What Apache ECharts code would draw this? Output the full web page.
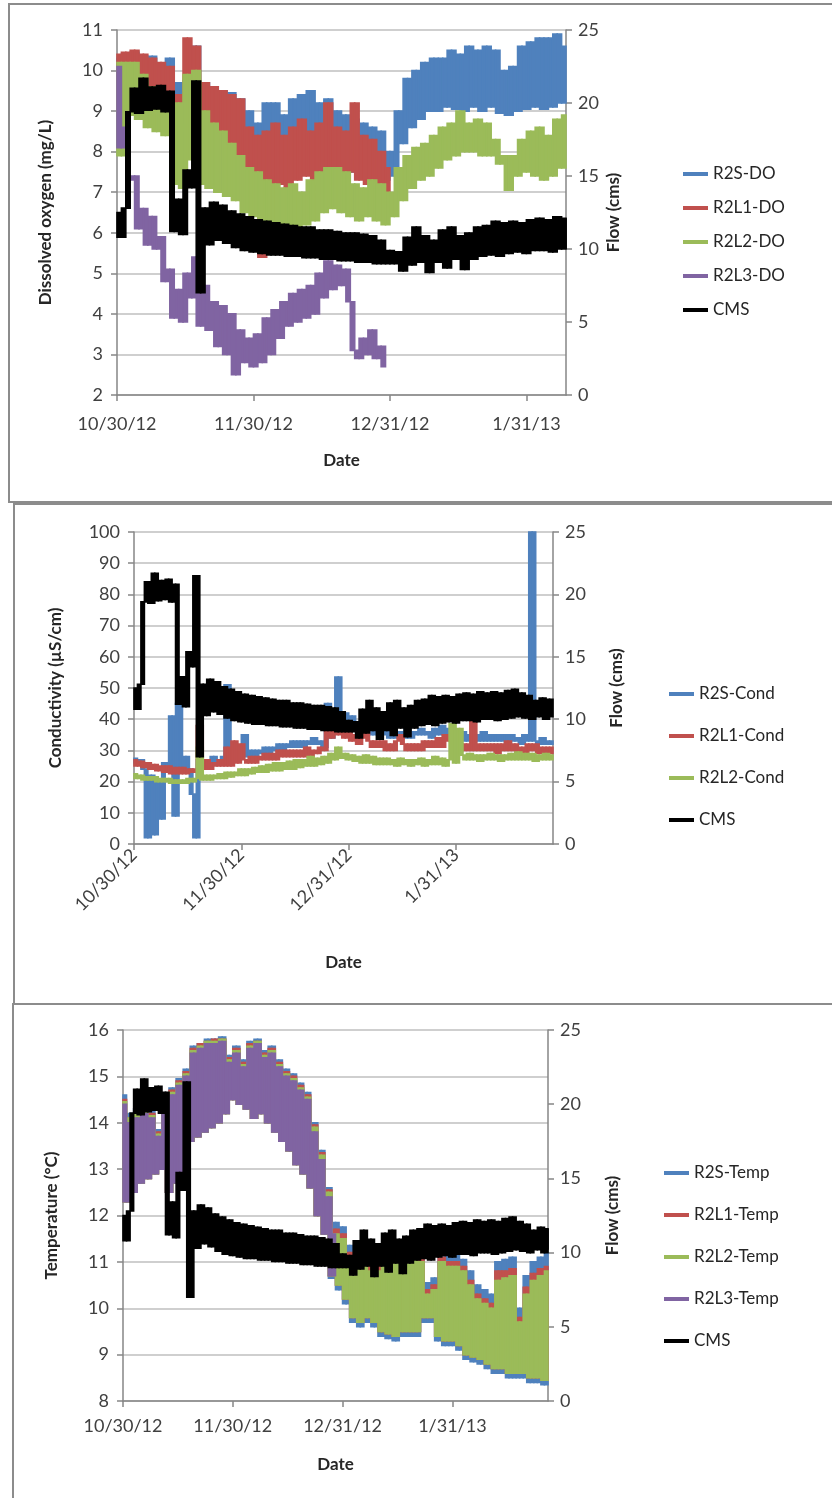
<!DOCTYPE html>
<html>
<head>
<meta charset="utf-8">
<script src="https://cdn.jsdelivr.net/npm/echarts@6/dist/echarts.min.js"></script>
<style>
  body { margin: 0; width: 832px; height: 1498px; overflow: hidden; background: #fff; }
  .chart { position: absolute; left: 0; width: 832px; }
  .box { position: absolute; box-sizing: border-box; border: 2px solid #8c8c8c; pointer-events: none; }
</style>
</head>
<body>
<div id="doChart" class="chart" style="top:0;height:504px;"></div>
<div id="condChart" class="chart" style="top:504px;height:500px;"></div>
<div id="tempChart" class="chart" style="top:1004px;height:494px;"></div>
<div class="box" style="left:8px;top:3px;width:900px;height:500px;"></div>
<div class="box" style="left:13px;top:503px;width:900px;height:502px;"></div>
<div class="box" style="left:12px;top:1003px;width:900px;height:600px;"></div>

<script>
  // x = days since 10/30/12, one reading per day (alternating daily high / low)
  var xTickDays = [0, 31, 62, 93];
  var xTickLabels = ['10/30/12', '11/30/12', '12/31/12', '1/31/13'];

  // flow, same record on all three panels
  var cmsFlow = [
    12.5, 10.8, 12.8, 19.4, 21.0, 19.3, 21.7, 19.5, 21.1, 19.6,
    21.2, 19.4, 20.8, 11.2, 13.4, 11.0, 15.4, 14.2, 21.5, 7.0,
    12.8, 10.3, 13.2, 10.6, 13.0, 10.4, 12.6, 10.1, 12.4, 9.9,
    12.2, 9.8, 12.0, 9.7, 11.9, 9.6, 11.8, 9.6, 11.7, 9.5,
    11.6, 9.5, 11.5, 9.4, 11.5, 9.4, 11.3, 9.3, 11.3, 9.3,
    11.2, 9.2, 11.1, 9.2, 11.1, 9.1, 11.0, 9.1, 10.9, 9.0,
    10.6, 9.0, 9.9, 9.0, 9.8, 8.5, 10.8, 8.9, 11.5, 9.1,
    10.9, 8.4, 10.6, 9.1, 11.3, 8.7, 11.5, 9.3, 10.9, 8.6,
    11.1, 9.3, 11.5, 9.5, 11.6, 9.6, 11.9, 9.5, 11.8, 9.7,
    11.9, 9.8, 11.8, 9.7, 12.0, 9.9, 12.1, 9.9, 12.0, 9.8,
    12.2, 10.0, 12.1, 10.0, 12.2, 9.9, 12.1, 10.0, 12.3, 10.1,
    12.4, 10.2, 12.1, 10.1, 11.9, 10.0, 11.5, 10.2, 11.7, 10.0,
    11.6, 10.2
  ];

  // dissolved oxygen (mg/L)
  var r2sDO = [
    10.3, 9.0, 10.4, 9.1, 10.45, 9.1, 10.35, 9.2, 10.35, 9.1,
    10.1, 9.1, 10.3, 8.6, 9.7, 8.5, 9.75, 9.0, 10.6, 8.9,
    9.7, 8.4, 9.6, 8.3, 9.5, 8.2, 9.45, 8.1, 9.3, 7.4,
    9.0, 7.5, 8.7, 7.3, 9.2, 7.6, 9.2, 7.7, 8.9, 7.6,
    9.3, 7.7, 9.4, 7.8, 9.5, 7.6, 9.2, 7.9, 9.3, 7.8,
    9.0, 7.6, 8.9, 7.5, 8.8, 7.6, 8.7, 7.5, 8.6, 7.4,
    8.5, 7.3, 8.0, 7.4, 9.0, 8.2, 9.8, 8.6, 10.0, 8.8,
    10.2, 9.0, 10.3, 9.0, 10.3, 9.1, 10.5, 9.05, 10.4, 9.0,
    10.6, 9.1, 10.5, 9.0, 10.6, 9.1, 10.5, 8.95, 10.0, 8.9,
    10.1, 9.0, 10.6, 9.05, 10.7, 9.1, 10.8, 9.05, 10.8, 9.1,
    10.9, 9.2, 10.6
  ];
  var r2l1DO = [
    10.4, 9.0, 10.45, 9.0, 10.5, 9.0, 10.4, 8.9, 10.3, 8.9,
    10.2, 8.8, 10.1, 8.6, 9.4, 8.7, 10.8, 8.9, 10.6, 8.4,
    9.7, 8.1, 9.6, 8.0, 9.5, 7.9, 9.4, 7.8, 9.3, 6.8,
    8.6, 7.0, 8.4, 5.4, 8.5, 7.1, 8.7, 7.2, 8.4, 6.9,
    8.6, 7.3, 8.8, 7.4, 8.5, 7.2, 8.7, 7.5, 9.2, 7.4,
    8.6, 7.3, 8.5, 7.5, 9.2, 7.3, 8.4, 7.2, 8.3, 7.1,
    8.0, 7.0, 7.6
  ];
  var r2l2DO = [
    10.2, 7.9, 10.2, 8.9, 10.2, 8.8, 9.9, 8.6, 9.6, 8.5,
    9.3, 8.4, 9.1, 7.2, 9.2, 7.1, 9.9, 7.8, 10.0, 7.2,
    9.0, 7.1, 8.7, 7.0, 8.5, 6.9, 8.2, 6.8, 7.9, 6.5,
    7.6, 6.4, 7.5, 6.3, 7.3, 6.2, 7.2, 6.1, 7.1, 6.2,
    7.2, 6.1, 7.0, 6.2, 7.3, 6.3, 7.5, 6.5, 7.6, 6.6,
    7.6, 6.5, 7.5, 6.4, 7.2, 6.3, 7.1, 6.4, 7.3, 6.3,
    7.2, 6.2, 7.0, 6.4, 7.6, 6.8, 7.9, 7.1, 8.1, 7.3,
    8.2, 7.4, 8.4, 7.6, 8.6, 7.8, 8.7, 7.9, 9.0, 8.0,
    8.7, 8.0, 8.8, 7.9, 8.7, 7.9, 8.3, 7.7, 7.9, 7.05,
    7.9, 7.4, 8.3, 7.5, 8.5, 7.4, 8.6, 7.3, 8.4, 7.4,
    8.8, 7.6, 8.9
  ];
  var r2l3DO = [
    10.1, 8.1, 8.6, 7.3, 7.4, 6.1, 6.6, 5.7, 6.4, 5.6,
    5.9, 4.8, 5.1, 3.9, 4.6, 3.8, 5.0, 4.4, 5.4, 3.7,
    4.7, 3.6, 4.3, 3.2, 4.2, 3.0, 4.0, 2.5, 3.6, 2.8,
    3.4, 2.7, 3.5, 2.8, 3.9, 3.0, 4.1, 3.4, 4.3, 3.7,
    4.5, 3.8, 4.6, 3.9, 4.7, 4.0, 5.0, 4.4, 5.3, 4.6,
    5.2, 4.7, 5.1, 4.3, 3.1, 2.9, 3.4, 3.0, 3.6, 2.9,
    3.2, 2.7
  ];

  // conductivity (uS/cm)
  var r2sCond = [
    27.5, 26, 27, 24, 2, 22, 3, 20, 8, 26,
    25, 41, 9, 45, 24, 28, 24, 16, 2, 27,
    25, 27, 26, 28, 26, 27, 28, 51, 27, 29,
    27, 29, 35, 28, 30, 28, 30, 29, 31, 29,
    31, 30, 32, 30, 32, 31, 33, 31, 33, 31,
    33, 32, 34, 32, 33, 31, 45, 34, 40, 53.5,
    40, 42, 38, 41, 37, 39, 36, 38, 35, 37,
    35, 38, 35, 37, 34, 36, 34, 36, 34, 37,
    34, 36, 35, 37, 35, 36, 34, 37, 35, 38,
    35, 37, 34, 36, 34, 36, 33, 35, 33, 35,
    33, 36, 33, 35, 33, 35, 33, 35, 32, 35,
    33, 34, 32, 35, 33, 100, 33, 32, 34, 32,
    33, 32
  ];
  var r2l1Cond = [
    27, 25, 26.5, 24.5, 26, 24, 25.5, 23.5, 25, 23,
    25, 22.5, 24.5, 22.5, 24.5, 22.5, 24, 23, 24, 38,
    24, 27, 24, 26, 25, 27, 25, 31, 25, 33,
    26, 32, 27, 26, 28, 26, 28, 27, 29, 27,
    29, 27, 30, 28, 30, 28, 30, 28, 30, 28,
    31, 28, 30, 29, 31, 30, 39, 34, 38, 35,
    37, 34, 36, 33, 35, 32, 34, 36, 33, 31,
    33, 31, 33, 30, 32, 30, 33, 35, 32, 30,
    32, 30, 32, 30, 33, 31, 33, 31, 34, 31,
    35, 33, 34, 30, 32, 30, 32, 30, 45, 30,
    32, 30, 32, 30, 32, 29, 32, 30, 33, 30,
    32, 29, 31, 29, 32, 30, 32, 29, 31, 29,
    31, 29
  ];
  var r2l2Cond = [
    22.5, 21, 22, 20.5, 21.5, 20.5, 21.5, 20, 21, 20,
    21, 19.5, 20.5, 19.5, 20.5, 19.5, 21, 20, 21, 31,
    20.5, 22, 20.5, 22, 21, 22.5, 21, 23, 21.5, 23,
    22, 24, 22, 24, 22.5, 24.5, 23, 25, 23, 25.5,
    23.5, 26, 23.5, 26, 24, 26.5, 24, 27, 24.5, 27,
    25, 28, 25, 27.5, 25.5, 28, 26, 29, 27, 31,
    27.5, 29, 27, 28.5, 26.5, 28, 26, 28.5, 26, 28,
    25.5, 27.5, 25.5, 27.5, 25.5, 27, 25, 27.5, 25.5, 27,
    25, 27, 25.5, 27.5, 25, 27, 25.5, 28, 25.5, 27.5,
    25, 27, 38.5, 26, 37, 28.5, 27, 29, 27, 28.5,
    26.5, 28.5, 27, 29, 27, 28.5, 26.5, 28.5, 27, 29,
    27, 29.5, 27, 29, 27, 29, 26.5, 28.5, 27, 29,
    27, 28.5
  ];

  // temperature (deg C)
  var r2sTemp = [
    14.6, 12.3, 14.2, 12.5, 14.3, 12.7, 14.35, 12.8, 14.25, 12.9,
    13.85, 13.0, 14.55, 12.5, 14.75, 12.7, 14.95, 12.9, 15.15, 13.6,
    15.65, 13.7, 15.7, 13.8, 15.8, 13.9, 15.8, 14.0, 15.85, 14.2,
    15.45, 14.5, 15.65, 14.4, 15.35, 14.3, 15.75, 14.1, 15.8, 14.2,
    15.55, 14.0, 15.65, 13.8, 15.35, 13.6, 15.15, 13.4, 15.05, 13.1,
    14.85, 12.9, 14.65, 12.6, 14.0, 12.0, 13.4, 11.6, 12.6, 10.65,
    11.85, 10.4, 11.75, 10.1, 11.35, 9.7, 11.25, 9.6, 11.35, 9.7,
    11.05, 9.6, 11.05, 9.4, 11.25, 9.35, 11.35, 9.3, 11.45, 9.4,
    11.45, 9.4, 11.35, 9.4, 11.25, 9.7, 10.55, 9.7, 10.65, 9.3,
    11.25, 9.2, 11.15, 9.2, 11.15, 9.1, 11.05, 8.9, 10.8, 8.85,
    10.5, 8.8, 10.4, 8.7, 10.3, 8.6, 11.0, 8.6, 11.05, 8.5,
    11.1, 8.5, 10.0, 8.5, 10.7, 8.4, 11.0, 8.4, 11.1, 8.35,
    11.2
  ];
  var r2l1Temp = [
    14.5, 12.3, 14.1, 12.5, 14.2, 12.7, 14.3, 12.8, 14.2, 12.9,
    13.8, 13.0, 14.5, 12.5, 14.7, 12.7, 14.9, 12.9, 15.1, 13.6,
    15.6, 13.7, 15.7, 13.8, 15.75, 13.9, 15.8, 14.0, 15.8, 14.2,
    15.4, 14.5, 15.6, 14.4, 15.3, 14.3, 15.7, 14.1, 15.75, 14.2,
    15.5, 14.0, 15.6, 13.8, 15.3, 13.6, 15.1, 13.4, 15.0, 13.1,
    14.8, 12.9, 14.6, 12.6, 13.95, 12.0, 13.35, 11.6, 12.55, 10.7,
    11.7, 10.5, 11.6, 10.2, 11.2, 9.8, 11.1, 9.7, 11.2, 9.8,
    10.9, 9.7, 10.9, 9.5, 11.1, 9.45, 11.2, 9.4, 11.3, 9.5,
    11.3, 9.5, 11.2, 9.5, 11.1, 9.8, 10.4, 9.8, 10.5, 9.4,
    11.1, 9.3, 11.0, 9.3, 11.0, 9.2, 10.9, 9.0, 10.6, 8.95,
    10.3, 8.9, 10.2, 8.8, 10.1, 8.7, 10.8, 8.7, 10.8, 8.6,
    10.85, 8.6, 9.8, 8.6, 10.45, 8.5, 10.75, 8.5, 10.85, 8.45,
    10.9
  ];
  var r2l2Temp = [
    14.45, 12.3, 14.1, 12.5, 14.2, 12.7, 14.25, 12.8, 14.15, 12.9,
    13.75, 13.0, 14.45, 12.5, 14.65, 12.7, 14.85, 12.9, 15.05, 13.6,
    15.55, 13.7, 15.65, 13.8, 15.75, 13.9, 15.75, 14.0, 15.8, 14.2,
    15.35, 14.5, 15.55, 14.4, 15.25, 14.3, 15.65, 14.1, 15.75, 14.2,
    15.45, 14.0, 15.55, 13.8, 15.25, 13.6, 15.05, 13.4, 14.95, 13.1,
    14.75, 12.9, 14.55, 12.6, 13.9, 12.0, 13.3, 11.6, 12.5, 10.7,
    11.6, 10.5, 11.5, 10.2, 11.1, 9.8, 11.0, 9.7, 11.1, 9.8,
    10.8, 9.7, 10.8, 9.5, 11.0, 9.45, 11.1, 9.4, 11.2, 9.5,
    11.2, 9.5, 11.1, 9.5, 11.0, 9.8, 10.3, 9.8, 10.4, 9.4,
    11.0, 9.3, 10.9, 9.3, 10.9, 9.2, 10.8, 9.0, 10.5, 8.95,
    10.2, 8.9, 10.1, 8.8, 10.0, 8.7, 10.6, 8.7, 10.65, 8.6,
    10.7, 8.6, 9.7, 8.6, 10.3, 8.5, 10.6, 8.5, 10.7, 8.45,
    10.8
  ];
  var r2l3Temp = [
    14.4, 12.3, 14.0, 12.5, 14.1, 12.7, 14.2, 12.8, 14.1, 12.9,
    13.7, 13.0, 14.4, 12.5, 14.6, 12.7, 14.8, 12.9, 15.0, 13.6,
    15.5, 13.7, 15.6, 13.8, 15.7, 13.9, 15.7, 14.0, 15.75, 14.2,
    15.3, 14.5, 15.5, 14.4, 15.2, 14.3, 15.6, 14.1, 15.7, 14.2,
    15.4, 14.0, 15.5, 13.8, 15.2, 13.6, 15.0, 13.4, 14.9, 13.1,
    14.7, 12.9, 14.5, 12.6, 13.8, 12.0, 13.2, 11.6, 12.4, 10.7,
    11.6
  ];

  var blue = '#4F81BD', red = '#C0504D', green = '#9BBB59', purple = '#8064A2', black = '#000000';
  var axisGray = '#868686';
  var labelColor = '#404040';
  var titleColor = '#262626';

  // each day's swing between consecutive readings -> [day, low, high]
  function swings(values) {
    var out = [];
    for (var i = 0; i < values.length - 1; i++) {
      out.push([i, Math.min(values[i], values[i + 1]), Math.max(values[i], values[i + 1])]);
    }
    return out;
  }

  function renderSwing(params, api) {
    var top = api.coord([api.value(0), api.value(2)]);
    var bottom = api.coord([api.value(0) + 1, api.value(1)]);
    var cs = params.coordSys;
    var shape = echarts.graphic.clipRectByRect(
      { x: top[0], y: top[1], width: bottom[0] - top[0], height: bottom[1] - top[1] },
      { x: cs.x, y: cs.y, width: cs.width, height: cs.height }
    );
    if (!shape) return;
    var color = api.visual('color');
    return {
      type: 'rect',
      shape: shape,
      style: { fill: color, stroke: color, lineWidth: 1.6 }
    };
  }

  function swingSeries(name, values, color, onFlow) {
    return {
      name: name,
      type: 'custom',
      renderItem: renderSwing,
      data: swings(values),
      encode: { x: 0, y: [1, 2] },
      yAxisIndex: onFlow ? 1 : 0,
      itemStyle: { color: color },
      silent: true
    };
  }

  function makeChart(id, c) {
    var chart = echarts.init(document.getElementById(id));
    var axisLine = { show: true, onZero: false, lineStyle: { color: axisGray, width: 1.5 } };
    var axisTick = { show: true, length: 6, lineStyle: { color: axisGray, width: 1.5 } };
    var titleStyle = { fontSize: 17, fontWeight: 'bold', color: titleColor };
    chart.setOption({
      animation: false,
      textStyle: { fontFamily: 'Lato' },
      grid: { left: c.grid[0], top: c.grid[1], width: c.grid[2], height: c.grid[3] },
      legend: {
        orient: 'vertical',
        left: c.legend[0],
        top: c.legend[1],
        itemGap: c.legend[2],
        icon: 'rect',
        itemWidth: 25,
        itemHeight: 4,
        textStyle: { fontSize: 17, lineHeight: 18, color: titleColor }
      },
      xAxis: {
        type: 'value',
        min: 0,
        max: c.xMax,
        interval: 31,
        name: 'Date',
        nameLocation: 'middle',
        nameGap: c.xNameGap,
        nameMoveOverlap: false,
        nameTextStyle: titleStyle,
        axisLine: axisLine,
        axisTick: { show: true, length: 6, customValues: xTickDays, lineStyle: { color: axisGray, width: 1.5 } },
        axisLabel: {
          customValues: xTickDays,
          rotate: c.rotate,
          margin: c.xLabelMargin,
          fontSize: 18,
          color: labelColor,
          formatter: function (v) {
            var k = xTickDays.indexOf(v);
            return k < 0 ? '' : xTickLabels[k];
          }
        },
        splitLine: { show: false }
      },
      yAxis: [
        {
          type: 'value',
          position: 'left',
          min: c.yMin,
          max: c.yMax,
          interval: c.yStep,
          name: c.yName,
          nameLocation: 'middle',
          nameGap: c.yNameGap,
          nameMoveOverlap: false,
          nameTextStyle: titleStyle,
          axisLine: axisLine,
          axisTick: axisTick,
          axisLabel: { margin: 14, fontSize: 18, color: labelColor },
          splitLine: { show: true, lineStyle: { color: '#BFBFBF', width: 1.5 } }
        },
        {
          type: 'value',
          position: 'right',
          min: 0,
          max: 25,
          interval: 5,
          name: 'Flow (cms)',
          nameLocation: 'middle',
          nameGap: c.flowNameGap,
          nameMoveOverlap: false,
          nameTextStyle: titleStyle,
          axisLine: axisLine,
          axisTick: axisTick,
          axisLabel: { margin: 12, fontSize: 18, color: labelColor },
          splitLine: { show: false }
        }
      ],
      series: c.series
    });
    return chart;
  }

  makeChart('doChart', {
    grid: [117, 30, 449, 365],
    xMax: 102, rotate: 0, xNameGap: 57, xLabelMargin: 20,
    yName: 'Dissolved oxygen (mg/L)', yMin: 2, yMax: 11, yStep: 1, yNameGap: 63,
    flowNameGap: 39,
    legend: [678, 160, 16],
    series: [
      swingSeries('R2S-DO', r2sDO, blue),
      swingSeries('R2L1-DO', r2l1DO, red),
      swingSeries('R2L2-DO', r2l2DO, green),
      swingSeries('R2L3-DO', r2l3DO, purple),
      swingSeries('CMS', cmsFlow, black, true)
    ]
  });

  makeChart('condChart', {
    grid: [134, 28, 419, 312],
    xMax: 121, rotate: 45, xNameGap: 110, xLabelMargin: 8,
    yName: 'Conductivity (µS/cm)', yMin: 0, yMax: 100, yStep: 10, yNameGap: 70,
    flowNameGap: 55,
    legend: [664, 176, 24],
    series: [
      swingSeries('R2S-Cond', r2sCond, blue),
      swingSeries('R2L1-Cond', r2l1Cond, red),
      swingSeries('R2L2-Cond', r2l2Cond, green),
      swingSeries('CMS', cmsFlow, black, true)
    ]
  });

  makeChart('tempChart', {
    grid: [123, 26, 425, 371],
    xMax: 120, rotate: 0, xNameGap: 55, xLabelMargin: 16,
    yName: 'Temperature (°C)', yMin: 8, yMax: 16, yStep: 1, yNameGap: 63,
    flowNameGap: 56,
    legend: [659, 155, 24],
    series: [
      swingSeries('R2S-Temp', r2sTemp, blue),
      swingSeries('R2L1-Temp', r2l1Temp, red),
      swingSeries('R2L2-Temp', r2l2Temp, green),
      swingSeries('R2L3-Temp', r2l3Temp, purple),
      swingSeries('CMS', cmsFlow, black, true)
    ]
  });
</script>
</body>
</html>
